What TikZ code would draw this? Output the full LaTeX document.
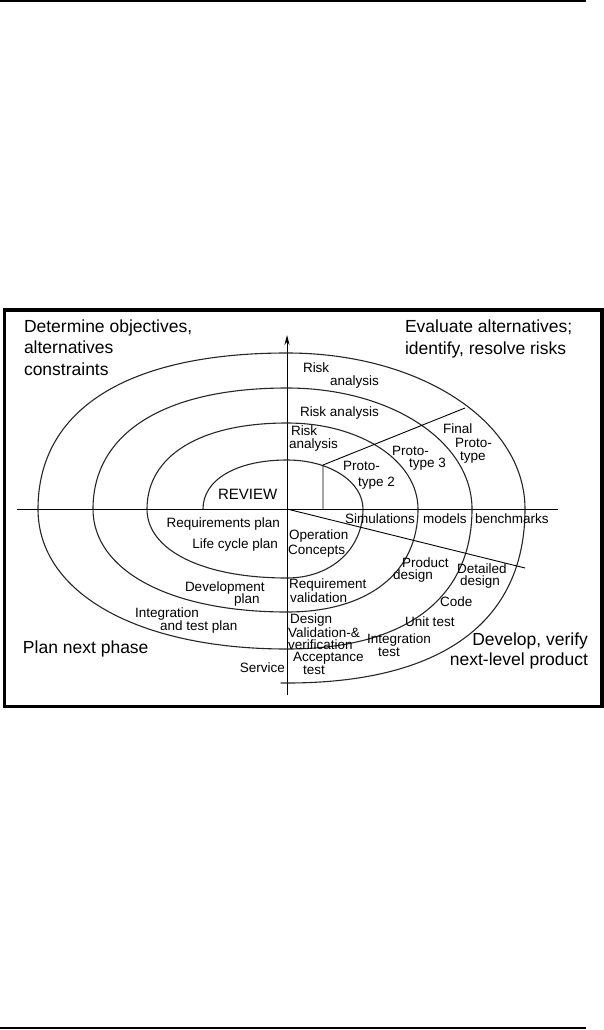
\documentclass[tikz,border=0pt]{standalone}
\usepackage{fontspec}
\setmainfont{Liberation Sans}
\usetikzlibrary{calc,arrows.meta}
\begin{document}
\begin{tikzpicture}[x=1pt,y=-1pt,
  lab/.style={font=\fontsize{13.5}{14}\selectfont,inner sep=0pt,outer sep=0pt,anchor=base west},
  labr/.style={lab,anchor=base east},
  corner/.style={font=\fontsize{17.5}{21}\selectfont,inner sep=0pt,outer sep=0pt,anchor=base west},
  cornerr/.style={corner,anchor=base east},
  spiral/.style={line width=1.1pt,black!85,line cap=round},
  axis/.style={line width=0.9pt,black},
  rule/.style={line width=2.3pt,black}]
\useasboundingbox (0,0) rectangle (604,1030);
% rules and frame
\coordinate (r1a) at (0,1.2); \coordinate (r1b) at (586,1.2);
\coordinate (r2a) at (0,1028); \coordinate (r2b) at (586,1028);
\draw[rule] (r1a) -- (r1b);
\draw[rule] (r2a) -- (r2b);
\coordinate (f1) at (4.3,310); \coordinate (f2) at (602,706.5);
\draw[line width=3.3pt] (f1) rectangle (f2);
% axis points
\coordinate (O) at (287,509);
\coordinate (L0) at (203,509); \coordinate (L1) at (147,509);
\coordinate (L2) at (93,509);  \coordinate (L3) at (38,509);
\coordinate (R1) at (363,509); \coordinate (R2) at (418,509);
\coordinate (R3) at (472,509); \coordinate (R4) at (525,509);
\coordinate (T1) at (287,460); \coordinate (T2) at (287,423);
\coordinate (T3) at (287,388); \coordinate (T4) at (287,353);
\coordinate (B1) at (287,578); \coordinate (B2) at (287,612);
\coordinate (B3) at (287,649); \coordinate (B4) at (287,683);
\coordinate (E) at (281,683);
% axes
\coordinate (ha) at (17,509); \coordinate (hb) at (558,509);
\coordinate (va) at (287,695); \coordinate (vb) at (287,335);
\draw[axis] (ha) -- (hb);
\draw[axis,-{Stealth[length=10pt,width=5pt]}] (va) -- (vb);
% spiral
\draw[spiral]
 (L0) .. controls ($(L0)!0.6!(L0|-T1)$) and ($(T1)!0.6!(L0|-T1)$) .. (T1)
      .. controls ($(T1)!0.56!(R1|-T1)$) and ($(R1)!0.56!(R1|-T1)$) .. (R1)
      .. controls ($(R1)!0.58!(R1|-B1)$) and ($(B1)!0.58!(R1|-B1)$) .. (B1)
      .. controls ($(B1)!0.6!(L1|-B1)$) and ($(L1)!0.6!(L1|-B1)$) .. (L1)
      .. controls ($(L1)!0.62!(L1|-T2)$) and ($(T2)!0.62!(L1|-T2)$) .. (T2)
      .. controls ($(T2)!0.56!(R2|-T2)$) and ($(R2)!0.56!(R2|-T2)$) .. (R2)
      .. controls ($(R2)!0.62!(R2|-B2)$) and ($(B2)!0.62!(R2|-B2)$) .. (B2)
      .. controls ($(B2)!0.6!(L2|-B2)$) and ($(L2)!0.6!(L2|-B2)$) .. (L2)
      .. controls ($(L2)!0.63!(L2|-T3)$) and ($(T3)!0.63!(L2|-T3)$) .. (T3)
      .. controls ($(T3)!0.56!(R3|-T3)$) and ($(R3)!0.56!(R3|-T3)$) .. (R3)
      .. controls ($(R3)!0.64!(R3|-B3)$) and ($(B3)!0.64!(R3|-B3)$) .. (B3)
      .. controls ($(B3)!0.6!(L3|-B3)$) and ($(L3)!0.6!(L3|-B3)$) .. (L3)
      .. controls ($(L3)!0.64!(L3|-T4)$) and ($(T4)!0.64!(L3|-T4)$) .. (T4)
      .. controls ($(T4)!0.56!(R4|-T4)$) and ($(R4)!0.56!(R4|-T4)$) .. (R4)
      .. controls ($(R4)!0.65!(R4|-B4)$) and ($(B4)!0.65!(R4|-B4)$) .. (B4)
      -- (E);
% radial lines
\coordinate (D1) at (525,568);
\coordinate (P) at (323,465); \coordinate (Pb) at (323,509);
\coordinate (Q) at (465,408);
\draw[axis] (O) -- (D1);
\draw[axis] (Pb) -- (P) -- (Q);
% corner labels
\node[corner] (c1) at (24,332) {Determine objectives,};
\node[corner] (c2) at (24,353) {alternatives};
\node[corner] (c3) at (24,375) {constraints};
\node[corner] (c4) at (405,332) {Evaluate alternatives;};
\node[corner] (c5) at (405,354) {identify, resolve risks};
\node[corner] (c6) at (23,653) {Plan next phase};
\node[cornerr] (c7) at (588,645) {Develop, verify};
\node[cornerr] (c8) at (588,665) {next-level product};
% upper labels
\node[lab] (ra1) at (303,372) {Risk};
\node[lab] (ra2) at (330,385) {analysis};
\node[lab] (rb) at (300,416) {Risk analysis};
\node[lab] (rc1) at (291,435) {Risk};
\node[lab] (rc2) at (289,448) {analysis};
\node[lab] (p21) at (343,470) {Proto-};
\node[lab] (p22) at (358,486) {type 2};
\node[lab] (p31) at (392,455) {Proto-};
\node[lab] (p32) at (409,467) {type 3};
\node[lab] (pf1) at (443,433) {Final};
\node[lab] (pf2) at (455,447) {Proto-};
\node[lab] (pf3) at (460,460) {type};
\node[lab,font=\fontsize{15}{15}\selectfont] (rev) at (218,499) {REVIEW};
% lower labels
\node[labr] (rq) at (280,527) {Requirements plan};
\node[labr] (lc) at (278,548) {Life cycle plan};
\node[lab] (op1) at (289,539) {Operation};
\node[lab] (op2) at (288,554) {Concepts};
\node[lab] (sim) at (345,523) {Simulations};
\node[lab] (mod) at (423,523) {models};
\node[lab] (ben) at (475,523) {benchmarks};
\node[lab] (pd1) at (402,567) {Product};
\node[lab] (pd2) at (393,579) {design};
\node[lab] (dd1) at (457,573) {Detailed};
\node[lab] (dd2) at (460,585) {design};
\node[lab] (code) at (440,606) {Code};
\node[lab] (rv1) at (289,588) {Requirement};
\node[lab] (rv2) at (290,602) {validation};
\node[lab] (ut) at (405,626) {Unit test};
\node[lab] (dv1) at (290,623) {Design};
\node[lab] (dv2) at (288,637) {Validation-\&};
\node[lab] (dv3) at (288,649) {verification};
\node[lab] (it1) at (367,643) {Integration};
\node[lab] (it2) at (378,656) {test};
\node[lab] (at1) at (293,661) {Acceptance};
\node[lab] (at2) at (303,674) {test};
\node[labr] (svc) at (285,672) {Service};
\node[lab] (dp1) at (185,591) {Development};
\node[lab] (dp2) at (234,603) {plan};
\node[lab] (itp1) at (135,617) {Integration};
\node[lab] (itp2) at (160,630) {and test plan};
\end{tikzpicture}
\end{document}
